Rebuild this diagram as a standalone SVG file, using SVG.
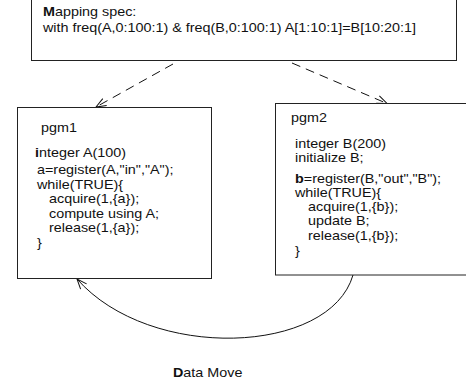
<svg xmlns="http://www.w3.org/2000/svg" width="466" height="385" viewBox="0 0 466 385">
  <style>
    .box { fill: #fff; stroke: #222; stroke-width: 1; }
    .t { font-family: "Liberation Sans", Arial, Helvetica, sans-serif; font-size: 12.6px; fill: #111; }
    .b { font-weight: bold; }
    .edge { fill: none; stroke: #111; stroke-width: 1; }
    .dash { stroke-dasharray: 9 6; }
  </style>
  <defs>
    <marker id="open" viewBox="0 0 12 10" refX="11" refY="5" markerWidth="12" markerHeight="10" markerUnits="userSpaceOnUse" orient="auto">
      <path d="M1,1 L11,5 L1,9" fill="none" stroke="#111" stroke-width="1"/>
    </marker>
  </defs>
  <rect x="0" y="0" width="466" height="385" fill="#fff"/>

  <!-- connectors -->
  <g id="connectors">
    <path class="edge dash" d="M173,64 L96,107" marker-end="url(#open)"/>
    <path class="edge dash" d="M292,63 L387,103.5" marker-end="url(#open)"/>
    <path class="edge" d="M353,275 C330,355 150,362 77,279" marker-end="url(#open)"/>
  </g>

  <!-- mapping specification (text is set in a horizontally widened face) -->
  <g id="spec">
    <rect class="box" x="31.5" y="-1" width="425" height="61.5"/>
    <g transform="scale(1.14,1)">
      <text class="t" x="37.72" y="16.5"><tspan class="b">M</tspan>apping spec:</text>
      <text class="t" x="37.72" y="32">with freq(A,0:100:1) &amp; freq(B,0:100:1) A[1:10:1]=B[10:20:1]</text>
    </g>
  </g>

  <!-- consumer program -->
  <g id="pgm1">
    <rect class="box" x="17.5" y="107.5" width="194" height="171"/>
    <g transform="scale(1.14,1)">
      <text class="t" x="35.96" y="132">pgm1</text>
      <text class="t" x="30.70" y="157"><tspan class="b">i</tspan>nteger A(100)</text>
      <text class="t" x="32.46" y="174">a=register(A,"in","A");</text>
      <text class="t" x="32.46" y="189">while(TRUE){</text>
      <text class="t" x="42.98" y="203.5">acquire(1,{a});</text>
      <text class="t" x="42.98" y="218">compute using A;</text>
      <text class="t" x="42.98" y="232.5">release(1,{a});</text>
      <text class="t" x="32.46" y="247">}</text>
    </g>
  </g>

  <!-- producer program -->
  <g id="pgm2">
    <rect class="box" x="275.5" y="103.5" width="200" height="171.5"/>
    <g transform="scale(1.14,1)">
      <text class="t" x="255.26" y="122.5">pgm2</text>
      <text class="t" x="258.77" y="148">integer B(200)</text>
      <text class="t" x="258.77" y="162.5">initialize B;</text>
      <text class="t" x="258.77" y="183"><tspan class="b">b</tspan>=register(B,"out","B");</text>
      <text class="t" x="258.77" y="197">while(TRUE){</text>
      <text class="t" x="270.18" y="211.5">acquire(1,{b});</text>
      <text class="t" x="270.18" y="225.5">update B;</text>
      <text class="t" x="270.18" y="240">release(1,{b});</text>
      <text class="t" x="258.77" y="255">}</text>
    </g>
  </g>

  <g id="label" transform="scale(1.14,1)">
    <text class="t" x="151.75" y="377"><tspan class="b">D</tspan>ata Move</text>
  </g>
</svg>
